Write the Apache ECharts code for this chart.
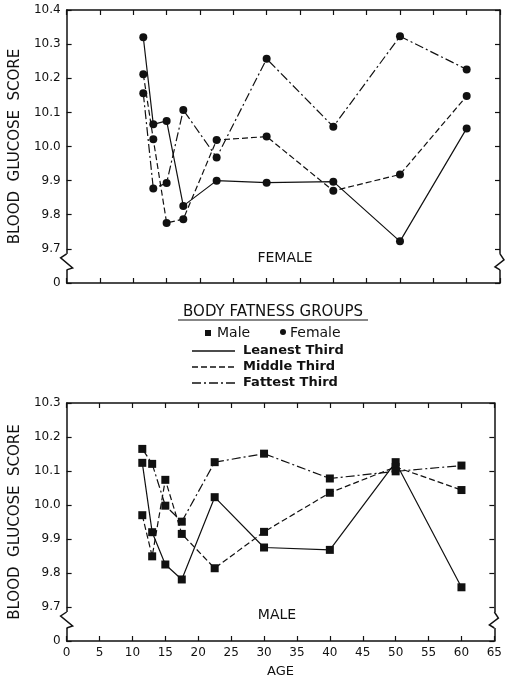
<!DOCTYPE html>
<html>
<head>
<meta charset="utf-8">
<script src="https://cdn.jsdelivr.net/npm/echarts@6/dist/echarts.min.js"></script>
<style>
html, body { margin: 0; padding: 0; background: #fff; }
#main { width: 505px; height: 682px; }
</style>
</head>
<body>
<div id="main"></div>
<script>
// ages (x) shared by all groups
var ages = [11.5, 13, 15, 17.5, 22.5, 30, 40, 50, 60]

// female blood glucose scores
var femaleLeanest = [10.32, 10.065, 10.075, 9.826, 9.90, 9.894, 9.897, 9.722, 10.053]
var femaleMiddle  = [10.212, 10.021, 9.776, 9.787, 10.019, 10.029, 9.870, 9.918, 10.148]
var femaleFattest = [10.156, 9.877, 9.893, 10.107, 9.968, 10.257, 10.058, 10.323, 10.226]

// male blood glucose scores
var maleLeanest = [10.124, 9.920, 9.825, 9.781, 10.023, 9.875, 9.868, 10.126, 9.758]
var maleMiddle  = [9.970, 9.849, 10.074, 9.915, 9.814, 9.921, 10.036, 10.112, 10.044]
var maleFattest = [10.165, 10.121, 9.998, 9.951, 10.126, 10.151, 10.078, 10.099, 10.116]

var xTicks = [0, 65, 5]
var topRange = [9.6, 10.4]
var bottomRange = [9.6, 10.3]

var FONT = 'DejaVu Sans'
var solid = 'solid'
var dashed = [6, 3]
var dashDot = [9, 3, 2, 3]

function pairs(ys) {
  return ages.map(function (a, i) { return [a, ys[i]] })
}

function yLabel(v) {
  return Math.abs(v - 9.6) < 1e-6 ? '0' : v.toFixed(1)
}

function xAxis(grid, pos, labels) {
  return {
    type: 'value', gridIndex: grid, position: pos,
    min: xTicks[0], max: xTicks[1], interval: xTicks[2],
    axisLine: { show: true, onZero: false, lineStyle: { color: '#111', width: 1.5 } },
    axisTick: { show: true, inside: true, length: 5, lineStyle: { color: '#111', width: 1.2 } },
    axisLabel: { show: labels, color: '#111', fontFamily: FONT, fontSize: 12, margin: 6 },
    splitLine: { show: false },
    name: labels ? 'AGE' : '', nameLocation: 'middle', nameGap: 24,
    nameTextStyle: { color: '#111', fontFamily: FONT, fontSize: 13 }
  }
}

function yAxis(grid, pos, range, labels) {
  return {
    type: 'value', gridIndex: grid, position: pos,
    min: range[0], max: range[1], interval: 0.1,
    axisLine: { show: true, onZero: false, lineStyle: { color: '#111', width: 1.5 } },
    axisTick: { show: true, inside: true, length: 5, lineStyle: { color: '#111', width: 1.2 } },
    axisLabel: { show: labels, color: '#111', fontFamily: FONT, fontSize: 12, margin: 6, formatter: yLabel },
    splitLine: { show: false },
    name: labels ? 'BLOOD  GLUCOSE  SCORE' : '', nameLocation: 'middle', nameGap: 40, nameRotate: 90,
    nameTextStyle: { color: '#111', fontFamily: FONT, fontSize: 15 }
  }
}

function line(name, ys, dash, sym, xi, yi) {
  return {
    name: name, type: 'line', xAxisIndex: xi, yAxisIndex: yi,
    data: pairs(ys), symbol: sym, symbolSize: 8,
    itemStyle: { color: '#111' },
    lineStyle: { color: '#111', width: 1.2, type: dash },
    animation: false, z: 5
  }
}

var chart = echarts.init(document.getElementById('main'), null, { renderer: 'canvas' })

var option = {
  backgroundColor: '#fff',
  animation: false,
  grid: [
    { left: 57, top: 10, width: 443, height: 273 },
    { left: 57, top: 403, width: 443, height: 238 }
  ],
  xAxis: [
    xAxis(0, 'bottom', false), xAxis(0, 'top', false),
    xAxis(1, 'bottom', true), xAxis(1, 'top', false)
  ],
  yAxis: [
    yAxis(0, 'left', topRange, true), yAxis(0, 'right', topRange, false),
    yAxis(1, 'left', bottomRange, true), yAxis(1, 'right', bottomRange, false)
  ],
  series: [
    line('Female Leanest', femaleLeanest, solid, 'circle', 0, 0),
    line('Female Middle', femaleMiddle, dashed, 'circle', 0, 0),
    line('Female Fattest', femaleFattest, dashDot, 'circle', 0, 0),
    line('Male Leanest', maleLeanest, solid, 'rect', 2, 2),
    line('Male Middle', maleMiddle, dashed, 'rect', 2, 2),
    line('Male Fattest', maleFattest, dashDot, 'rect', 2, 2)
  ]
}
chart.setOption(option)

// axis breaks + labels + legend
function breakMarks(xi, yi) {
  var xl = chart.convertToPixel({ xAxisIndex: xi }, xTicks[0])
  var xr = chart.convertToPixel({ xAxisIndex: xi }, xTicks[1])
  var y = chart.convertToPixel({ yAxisIndex: yi }, 9.7)
  var st = { stroke: '#111', lineWidth: 1.5, fill: null }
  return [
    { type: 'rect', shape: { x: xl - 2, y: y + 5, width: 4, height: 16 }, style: { fill: '#fff' }, z: 10 },
    { type: 'rect', shape: { x: xr - 2, y: y + 5, width: 4, height: 16 }, style: { fill: '#fff' }, z: 10 },
    { type: 'polyline', shape: { points: [[xl, y + 5], [xl - 6, y + 9], [xl + 6, y + 19], [xl, y + 21]] }, style: st, z: 11 },
    { type: 'polyline', shape: { points: [[xr, y + 5], [xr + 4, y + 11], [xr - 5, y + 18], [xr, y + 21]] }, style: st, z: 11 }
  ]
}

function txt(x, y, s, size, weight, align) {
  return {
    type: 'text', x: x, y: y, z: 12,
    style: { text: s, fill: '#111', font: (weight || 'normal') + ' ' + size + 'px "' + FONT + '"', textAlign: align || 'left', textVerticalAlign: 'middle' }
  }
}

function sample(y, dash) {
  return { type: 'line', shape: { x1: 192, y1: y, x2: 235, y2: y }, style: { stroke: '#111', lineWidth: 1.3, lineDash: dash === 'solid' ? null : dash }, z: 12 }
}

var graphics = [].concat(
  breakMarks(0, 0),
  breakMarks(2, 2),
  [
    txt(285, 258, 'FEMALE', 14, 'normal', 'center'),
    txt(277, 615, 'MALE', 14, 'normal', 'center'),
    txt(273, 312, 'BODY FATNESS GROUPS', 15, 'normal', 'center'),
    { type: 'line', shape: { x1: 178, y1: 320, x2: 368, y2: 320 }, style: { stroke: '#111', lineWidth: 1.2 }, z: 12 },
    { type: 'rect', shape: { x: 205, y: 330, width: 6, height: 6 }, style: { fill: '#111' }, z: 12 },
    txt(217, 333, 'Male', 14),
    { type: 'circle', shape: { cx: 283, cy: 332, r: 3 }, style: { fill: '#111' }, z: 12 },
    txt(290, 333, 'Female', 14),
    sample(351, solid), txt(243, 351, 'Leanest Third', 13, 'bold'),
    sample(367, dashed), txt(243, 367, 'Middle Third', 13, 'bold'),
    sample(383, dashDot), txt(243, 383, 'Fattest Third', 13, 'bold')
  ]
)
chart.setOption({ graphic: graphics })
</script>
</body>
</html>
